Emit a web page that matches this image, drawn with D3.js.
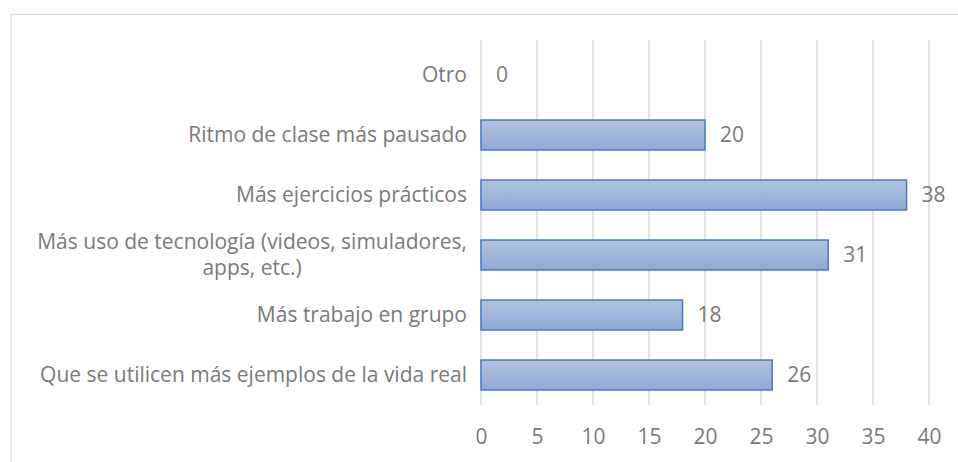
<!DOCTYPE html>
<html>
<head>
<meta charset="utf-8">
<script src="https://cdn.jsdelivr.net/npm/d3@7"></script>
<style>
  body { margin: 0; background: #fff; }
  svg text { font-family: "Open Sans", "Noto Sans", sans-serif; fill: #7a7a7a; }
</style>
</head>
<body>
<div id="chart"></div>
<script>
//Datos
const categorias = [
    'Otro',
    'Ritmo de clase más pausado',
    'Más ejercicios prácticos',
    'Más uso de tecnología (videos, simuladores, apps, etc.)',
    'Más trabajo en grupo',
    'Que se utilicen más ejemplos de la vida real'
];
const valores = [0, 20, 38, 31, 18, 26];
const ticks = [0, 5, 10, 15, 20, 25, 30, 35, 40];

//Colores
const COLOR_GRID = '#d9d9d9',
COLOR_STROKE = '#4a7bc0',
COLOR_TOP = '#b2c2de',
COLOR_BOTTOM = '#8ea9d6',
COLOR_TEXT = '#7a7a7a';

let width = 958, height = 462;
let margin = {top: 45, right: 29, bottom: 57, left: 481};
let labelX = 467;

let svg = d3.select('#chart')
    .append('svg')
      .attr('width', width)
      .attr('height', height);

//Marco
svg.append('rect')
    .attr('x', 11).attr('y', 14.5)
    .attr('width', 960).attr('height', 460)
    .attr('fill', 'none')
    .attr('stroke', COLOR_GRID)
    .attr('stroke-width', 1.3);

let defs = svg.append('defs');
let grad = defs.append('linearGradient')
    .attr('id', 'barGrad')
    .attr('x1', 0).attr('y1', 0).attr('x2', 0).attr('y2', 1);
grad.append('stop').attr('offset', '0%').attr('stop-color', COLOR_TOP);
grad.append('stop').attr('offset', '100%').attr('stop-color', COLOR_BOTTOM);

let x = d3.scaleLinear()
    .domain([0, 40])
    .range([margin.left, width - margin.right]);

let y = d3.scaleBand()
    .domain(categorias)
    .range([margin.top, height - margin.bottom])
    .paddingInner(0.5)
    .paddingOuter(0.25);

//Rejilla
svg.append('g')
    .selectAll('line')
    .data(ticks)
    .enter()
    .append('line')
      .attr('x1', function(d) { return x(d); })
      .attr('x2', function(d) { return x(d); })
      .attr('y1', 40)
      .attr('y2', 405)
      .attr('stroke', COLOR_GRID)
      .attr('stroke-width', 1.5);

//Eje X
let xAxis = svg.append('g')
    .attr('transform', 'translate(0,' + 437 + ')')
    .call(d3.axisBottom(x).tickValues(ticks).tickSize(0).tickPadding(0));
xAxis.select('.domain').remove();
xAxis.selectAll('text')
    .attr('dy', '0.35em')
    .attr('fill', COLOR_TEXT)
    .style('font-size', '21px')
    .style('font-family', '"Open Sans", sans-serif');

//Barras
svg.append('g')
    .selectAll('rect')
    .data(valores.map(function(v, i) { return {cat: categorias[i], val: v}; }))
    .enter()
    .append('rect')
      .filter(function(d) { return d.val > 0; })
      .attr('x', x(0))
      .attr('y', function(d) { return y(d.cat); })
      .attr('width', function(d) { return x(d.val) - x(0); })
      .attr('height', y.bandwidth())
      .attr('fill', 'url(#barGrad)')
      .attr('stroke', COLOR_STROKE)
      .attr('stroke-width', 1.5);

//Etiquetas de valor
svg.append('g')
    .selectAll('text')
    .data(valores)
    .enter()
    .append('text')
      .attr('x', function(d) { return x(d) + 15; })
      .attr('y', function(d, i) { return y(categorias[i]) + y.bandwidth() / 2; })
      .attr('dy', '0.35em')
      .style('font-size', '21px')
      .text(function(d) { return d; });

//Etiquetas de categoría
function partir(t) {
    if (t.length > 45) {
        let idx = t.lastIndexOf(' ', 44);
        return [t.slice(0, idx), t.slice(idx + 1)];
    }
    return [t];
}

svg.append('g')
    .selectAll('text')
    .data(categorias)
    .enter()
    .append('text')
      .attr('text-anchor', 'end')
      .attr('x', labelX)
      .attr('y', function(d) { return y(d) + y.bandwidth() / 2; })
      .style('font-size', '21px')
      .each(function(d) {
          let lineas = partir(d);
          let sel = d3.select(this);
          if (lineas.length === 1) {
              sel.attr('dy', '0.35em').text(d);
              return;
          }
          //Primera línea alineada a la derecha, segunda centrada bajo ella
          let t1 = sel.append('tspan')
              .attr('x', labelX)
              .attr('dy', (0.35 - 0.62) + 'em')
              .text(lineas[0]);
          let w1 = t1.node().getComputedTextLength();
          sel.append('tspan')
              .attr('x', labelX - w1 / 2)
              .attr('dy', '1.24em')
              .attr('text-anchor', 'middle')
              .text(lineas[1]);
      });
</script>
</body>
</html>
